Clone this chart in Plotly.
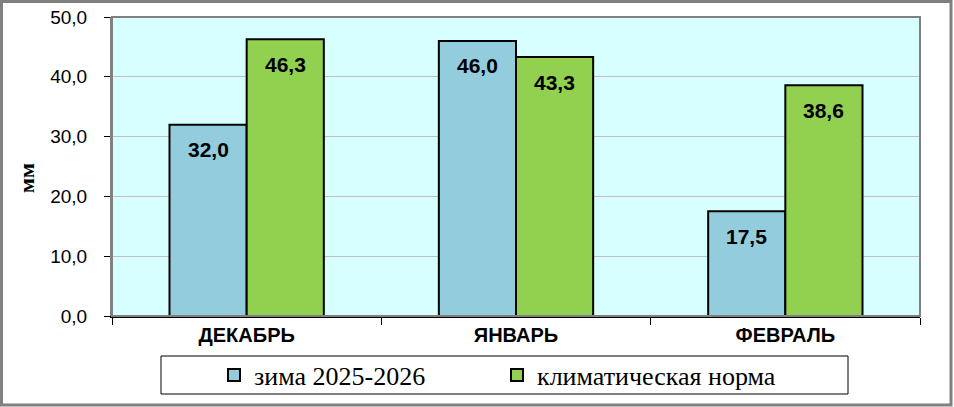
import plotly.graph_objects as go

months = ["ДЕКАБРЬ", "ЯНВАРЬ", "ФЕВРАЛЬ"]
winter_2025_2026 = [32.0, 46.0, 17.5]
climate_norm = [46.3, 43.3, 38.6]
series_names = ["зима 2025-2026", "климатическая норма"]
y_ticks = [0, 10, 20, 30, 40, 50]

W, H = 954, 407
L, R, T, B = 112, 34, 17, 91
pw, ph = W - L - R, H - T - B

def px_x(v):
	return (v - L) / pw

def px_y(v):
	return (H - B - v) / ph

fig = go.Figure()
fig.add_trace(go.Bar(x=months, y=winter_2025_2026, name=series_names[0],
	marker=dict(color="#93cddd", line=dict(color="black", width=2))))
fig.add_trace(go.Bar(x=months, y=climate_norm, name=series_names[1],
	marker=dict(color="#92d050", line=dict(color="black", width=2))))

# value labels, just under the top of each bar
bar_half = pw / 3 * (1 - 0.427) / 4
for vals, shift in [(winter_2025_2026, -bar_half), (climate_norm, bar_half)]:
	for m, v in zip(months, vals):
		fig.add_annotation(x=m, y=v, text=f"{v:.1f}".replace(".", ","), showarrow=False,
			xshift=shift, yshift=-25, yanchor="middle",
			font=dict(family="Arial", size=21, color="black", weight="bold"))

fig.add_annotation(x=px_x(26), y=px_y(178), xref="paper", yref="paper", text="мм",
	textangle=-90, showarrow=False, xanchor="center", yanchor="middle",
	font=dict(family="Liberation Serif", size=22, color="black", weight="bold"))

fig.update_layout(
	width=W, height=H, margin=dict(l=L, r=R, t=T, b=B, autoexpand=False),
	paper_bgcolor="white", plot_bgcolor="#d8ffff",
	barmode="group", bargap=0.427, bargroupgap=0,
	separators=", ",
	showlegend=True,
	legend=dict(orientation="h", xref="container", yref="container",
		x=214 / W, xanchor="left", y=1 - 375 / H, yanchor="middle",
		font=dict(family="Liberation Serif", size=26, color="black"),
		bgcolor="rgba(0,0,0,0)", entrywidth=238, traceorder="normal"),
	shapes=[
		dict(type="rect", xref="paper", yref="paper", x0=px_x(161), x1=px_x(848),
			y0=px_y(394), y1=px_y(356), line=dict(color="black", width=1)),
		dict(type="rect", xref="paper", yref="paper", x0=px_x(1.5), x1=px_x(951),
			y0=px_y(405), y1=px_y(1.5), line=dict(color="#808080", width=3)),
		dict(type="rect", xref="paper", yref="paper", x0=0, x1=1, y0=0, y1=1,
			line=dict(color="#808080", width=2), layer="above"),
	],
)
fig.update_yaxes(range=[0, 50], tickvals=y_ticks, tickformat=".1f", automargin=False,
	showgrid=True, gridcolor="#c0c0c0", gridwidth=1,
	ticks="outside", ticklen=6, tickcolor="black", ticklabelstandoff=13,
	showline=True, linecolor="#808080", linewidth=2, zeroline=False,
	tickfont=dict(family="Arial", size=19, color="black"))
fig.update_xaxes(showline=True, linecolor="black", linewidth=2, automargin=False,
	ticks="outside", tickson="boundaries", ticklen=7, tickcolor="black",
	tickfont=dict(family="Arial", size=20, color="black", weight="bold"))

fig.write_html("out.html", config={"displayModeBar": False},
	post_script="document.body.style.margin='0';")
